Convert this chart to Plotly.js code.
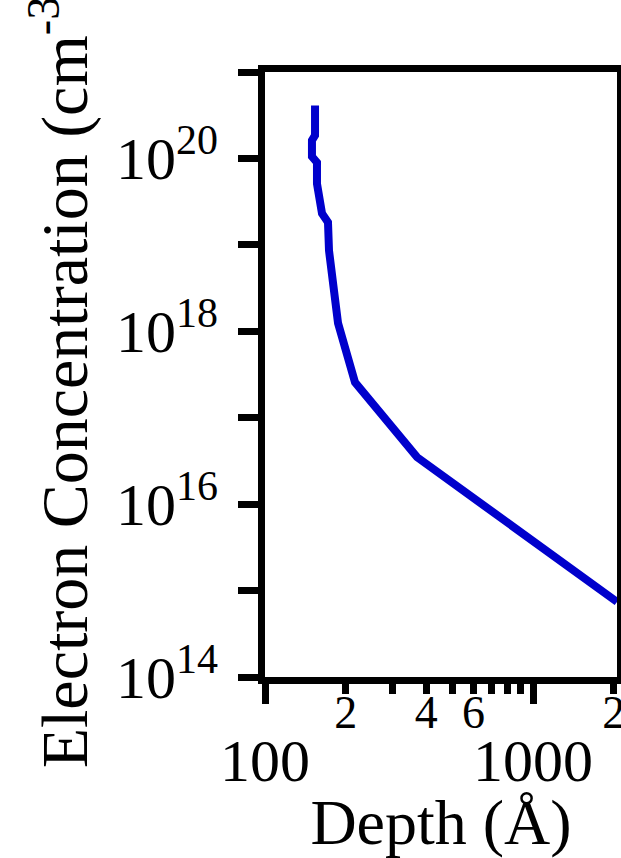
<!DOCTYPE html>
<html>
<head>
<meta charset="utf-8">
<script src="https://cdn.plot.ly/plotly-3.0.1.min.js"></script>
<style>html,body{margin:0;padding:0;background:#fff;}#chart{width:621px;height:858px;}</style>
</head>
<body>
<div id="chart"></div>
<script>
// Depth (Å) and electron concentration (cm^-3)
const depth = [153.7, 153.7, 149.7, 149.7, 156.3, 156.3, 163.2, 171.8, 173.3, 187.3, 216.7, 369.1, 2058];
const concentration = [4.1e20, 1.85e20, 1.62e20, 1.05e20, 9.0e19, 5.1e19, 2.31e19, 1.82e19, 8.6e18, 1.24e18, 2.57e17, 3.5e16, 7.4e14];

const yLabelVals = [1e14, 1e16, 1e18, 1e20];
const yLabelText = ['10<sup>14</sup>', '10<sup>16</sup>', '10<sup>18</sup>', '10<sup>20</sup>'];
const yOddVals = [1e15, 1e17, 1e19, 1e21];
const xMajorVals = [100, 1000];
const xMajorText = ['100', '1000'];
const xMinorLabelVals = [200, 400, 600, 2000];
const xMinorLabelText = ['2', '4', '6', '2'];
const yTitle = 'Electron Concentration (cm<sup>-3</sup>)';
const xTitle = 'Depth (Å)';

const FONT = 'Liberation Serif, Times New Roman, serif';

const traces = [
  {
    x: depth, y: concentration, type: 'scatter', mode: 'lines',
    line: {color: 'rgb(0,0,204)', width: 8},
    xaxis: 'x', yaxis: 'y', showlegend: false, hoverinfo: 'skip'
  },
  {
    x: [xMinorLabelVals[0]], y: [1e14], type: 'scatter', mode: 'markers',
    marker: {opacity: 0}, xaxis: 'x2', yaxis: 'y', showlegend: false, hoverinfo: 'skip'
  }
];

const layout = {
  width: 621, height: 858,
  margin: {l: 265, r: 4, t: 72, b: 181, pad: 0},
  paper_bgcolor: '#fff', plot_bgcolor: '#fff',
  font: {family: FONT, color: '#000'},
  showlegend: false,
  xaxis: {
    type: 'log', range: [2, 3.3134],
    showline: true, linecolor: '#000', linewidth: 7, mirror: true,
    showgrid: false, zeroline: false,
    tickmode: 'array', tickvals: xMajorVals, ticktext: xMajorText,
    ticks: 'outside', ticklen: 20, tickwidth: 7, tickcolor: '#000',
    tickfont: {family: FONT, size: 60, color: '#000'},
    ticklabelstandoff: 5,
    minor: {ticks: 'outside', ticklen: 10, tickwidth: 7, tickcolor: '#000', dtick: 'D1', showgrid: false},
    title: {text: xTitle, font: {family: FONT, size: 64, color: '#000'}, standoff: 36},
    automargin: false
  },
  xaxis2: {
    type: 'log', range: [2, 3.3134], overlaying: 'x', anchor: 'y', side: 'bottom',
    showline: false, showgrid: false, zeroline: false,
    tickmode: 'array', tickvals: xMinorLabelVals, ticktext: xMinorLabelText,
    ticks: '', tickfont: {family: FONT, size: 46, color: '#000'},
    ticklabelstandoff: 4, ticklabeloverflow: 'allow', automargin: false
  },
  yaxis: {
    type: 'log', range: [14, 21],
    showline: true, linecolor: '#000', linewidth: 7, mirror: true,
    showgrid: false, zeroline: false,
    tickmode: 'array', tickvals: yLabelVals, ticktext: yLabelText,
    ticks: 'outside', ticklen: 20, tickwidth: 7, tickcolor: '#000',
    tickfont: {family: FONT, size: 60, color: '#000'},
    ticklabelstandoff: 8,
    minor: {ticks: 'outside', ticklen: 20, tickwidth: 7, tickcolor: '#000', tickmode: 'array', tickvals: yOddVals, showgrid: false},
    automargin: false
  },
  annotations: [{
    text: yTitle, textangle: -90, showarrow: false,
    xref: 'paper', yref: 'paper', x: -0.58, y: 0.505,
    xanchor: 'center', yanchor: 'middle',
    font: {family: FONT, size: 66, color: '#000'}
  }]
};

Plotly.newPlot('chart', traces, layout, {staticPlot: true, displayModeBar: false});
</script>
</body>
</html>
